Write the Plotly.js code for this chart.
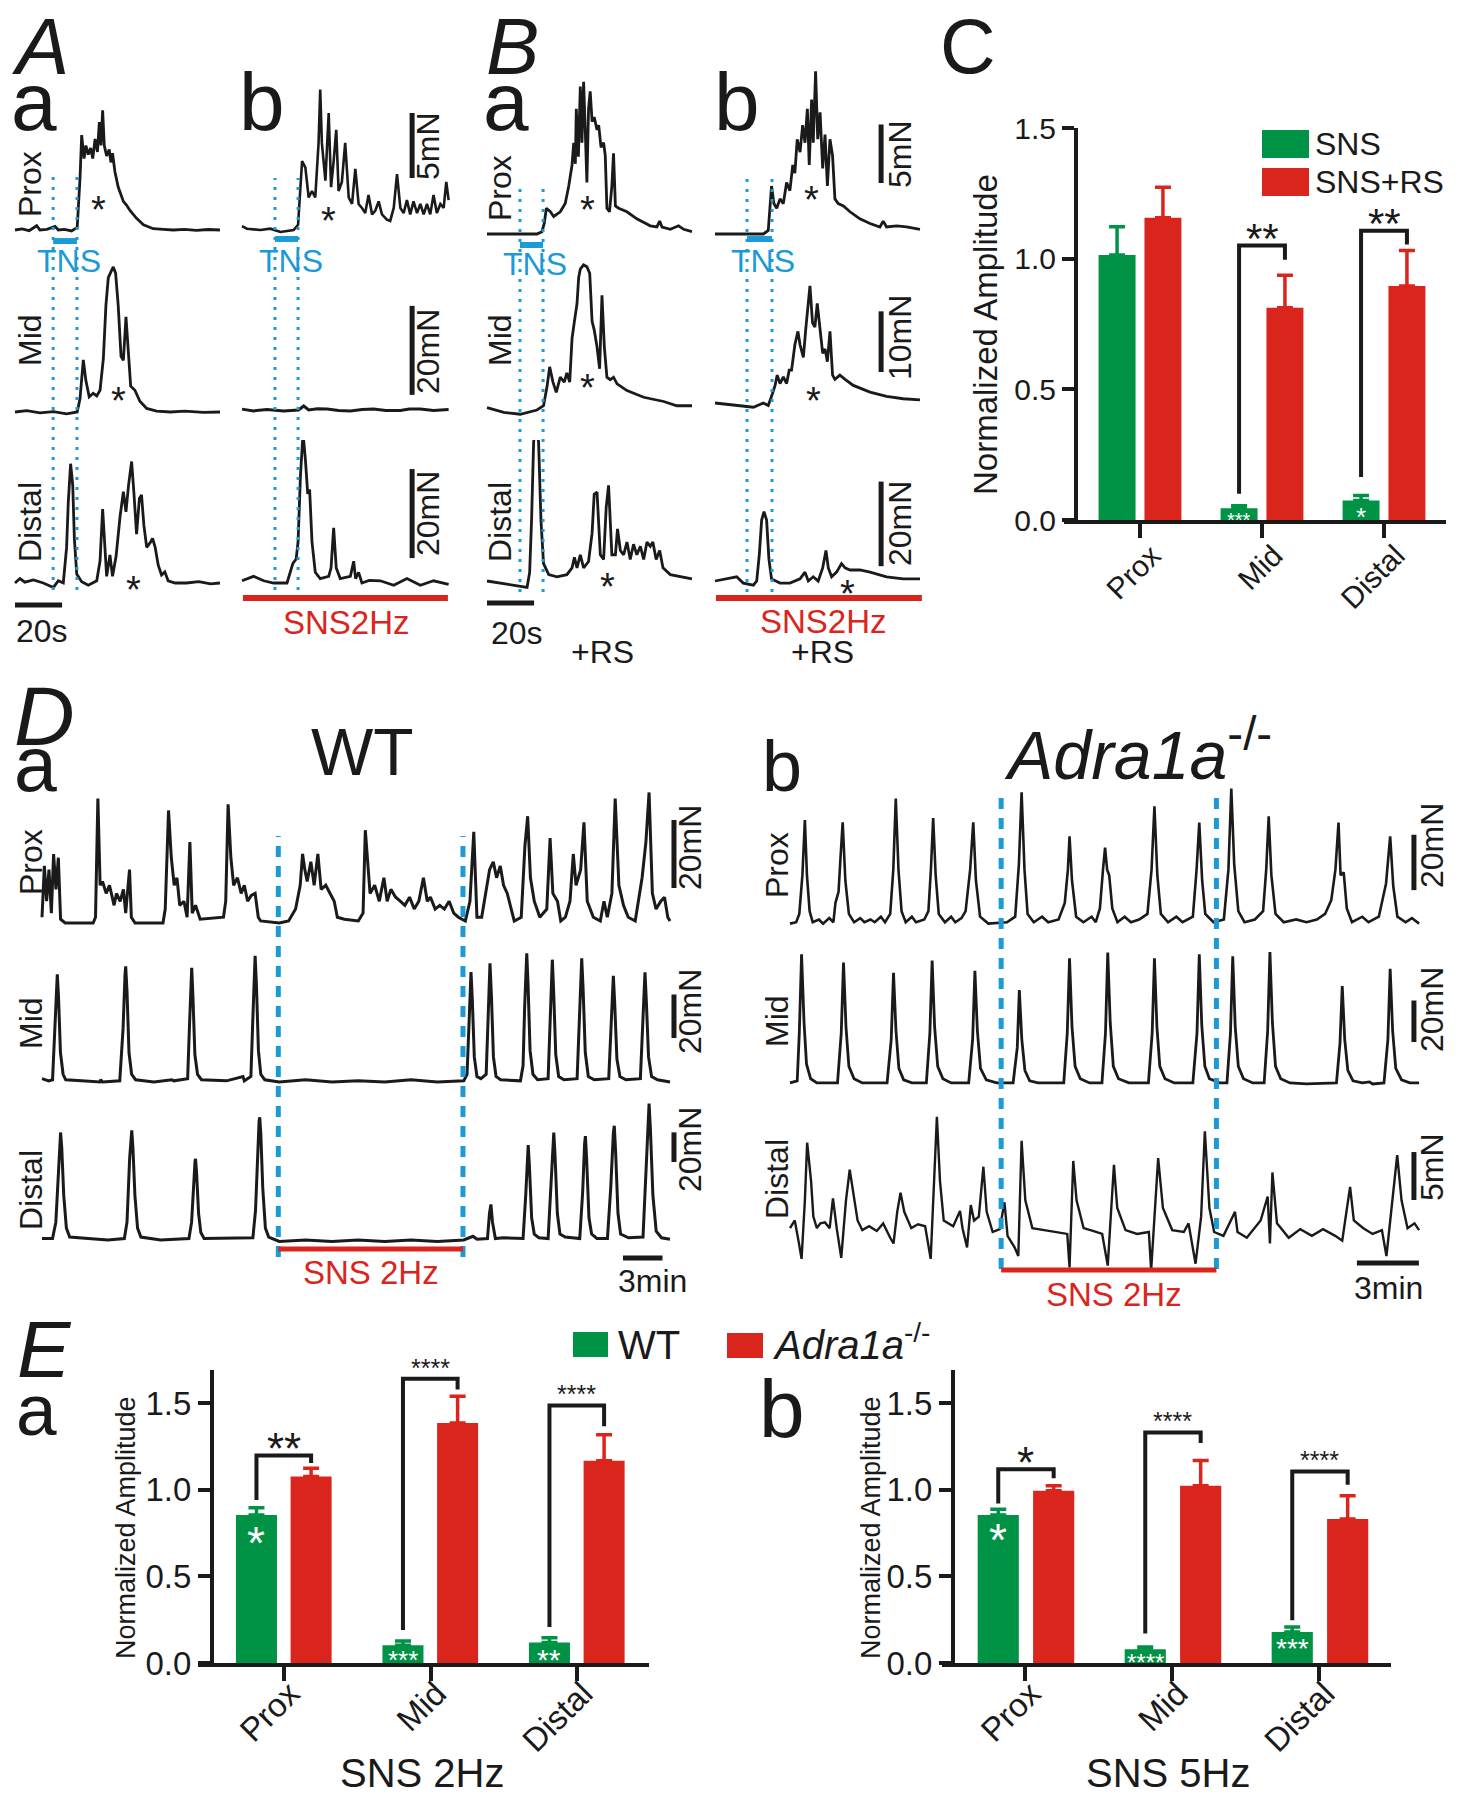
<!DOCTYPE html>
<html>
<head>
<meta charset="utf-8">
<script src="https://cdn.plot.ly/plotly-3.0.1.min.js"></script>
<style>body{margin:0;background:#fff}</style>
</head>
<body>
<div id="fig" style="width:1461px;height:1800px"></div>
<script>
// ---------- force traces, panels A and B: [time (s), force above baseline (mN)] ----------
var aaProx = [[0,0],[3,0.08],[6,-0.05],[9.2,0.33],[10.6,0],[13.5,0.05],[17,0.27],[18.4,0],[21,0.05],[24,-0.07],[26.4,0.2],[27.6,4.0],[28.3,7.3],[29.3,5.5],[30.1,6.5],[31.1,5.8],[32.1,6.3],[33,5.5],[34,7.0],[35,6.0],[35.8,8.3],[36.5,6.5],[37.2,9.2],[37.9,6.5],[38.9,5.7],[40,6.2],[40.7,5.2],[41.4,5.9],[42.4,4.5],[43.8,3.3],[46,2.2],[47.4,1.9],[48.8,1.5],[50.2,1.2],[51.6,0.9],[54.5,0.4],[58.7,0.1],[63,0.05],[67.2,0],[72,0.05],[77,-0.03],[82,0.04],[87,0]];
var aaMid = [[0,0],[5,0.3],[10.6,-0.2],[16.3,0.1],[21.9,-0.4],[26.4,0],[27.6,3],[29,11.7],[30.1,7],[31.5,3.4],[33.2,4.2],[34.7,3.6],[36.1,4.9],[37.5,12],[38.6,24],[39.6,30.2],[40.7,31.5],[41.7,32.6],[42.7,31.2],[43.8,24],[45,12.5],[46,11.6],[47.1,21.4],[48.1,14],[49.1,5.8],[50.9,4.9],[53,2.4],[55.9,0.8],[60.1,0.2],[66,0],[72,0.2],[80,-0.1],[87,0]];
var aaDistal = [[0,0],[2.1,1.0],[4.2,0.2],[7.8,0.7],[12,0],[16.3,-1.0],[18.4,0.5],[20.5,0],[21.9,8],[22.6,18],[23.6,26.8],[24.5,22],[25.2,10],[26.2,2],[28.3,0.3],[31.1,-0.5],[34.7,0.5],[36.1,5],[37.2,16.6],[38.1,8],[38.9,1.5],[40.3,6.3],[41.4,1.5],[42.9,6],[44.6,15],[46,20.5],[47.1,16],[48.2,22],[49.5,27.3],[50.5,20],[51.6,11],[52.8,19],[53.7,19.8],[54.7,13],[55.9,8],[57.3,9],[58.4,10],[59.5,8],[60.8,4],[62.2,1.8],[63.6,2.5],[65,0.5],[68,0],[72.8,0],[78,0.3],[83,-0.2],[87,0]];
var abProx = [[0,0.3],[2.1,0.1],[7.8,0],[12,0.1],[16.3,-0.15],[21.9,0],[23.8,0.4],[24.8,3.3],[25.5,5.3],[26.9,4.8],[28.3,2.5],[29.7,3],[31.1,2.5],[32.5,6.7],[33.2,10.8],[33.9,6.7],[35.4,3.8],[36.8,9],[37.8,3.3],[38.9,5.3],[40,7.7],[41,3],[42.4,3.7],[43.8,6.7],[45.3,2.5],[46.7,2],[48.1,4.7],[49.5,2],[50.9,1.7],[52.3,1.3],[53.7,2.7],[55.2,1.2],[56.6,1.5],[58,2.2],[59.4,1.2],[61.5,0.8],[62.9,0.7],[64.4,1.7],[65.8,4.3],[67.2,1.7],[68.6,1.3],[70,2.3],[71.4,1.2],[72.8,2.2],[74.3,1.3],[75.7,2],[77.1,1.2],[78.5,2],[79.9,1.2],[81.3,2.7],[82.7,1.3],[84.2,2],[85.6,1.7],[86.7,3.7],[87.7,2.3]];
var abMid = [[0,0.2],[4.9,-0.2],[10.6,0.1],[17.7,-0.2],[24,0],[26.2,0.9],[28.3,0],[32,0.3],[36.1,0.2],[41,-0.1],[46,-0.2],[51,0.1],[55.9,0.2],[61,-0.1],[67.2,-0.1],[71,0.2],[75.7,0.2],[81.3,-0.1],[87.7,0.1]];
var abDistal = [[0,0.5],[4.9,1.5],[9.2,0.5],[13.4,0],[19.1,0],[21.6,4.4],[23,5.4],[23.8,9.3],[24.8,24],[25.9,33.7],[26.9,27.8],[27.9,20],[28.7,21],[29.7,9.3],[31.1,2.4],[33.2,1],[36.8,1.5],[37.8,3.4],[38.9,12.4],[40,3.4],[41.7,1],[46,1.5],[47.4,4.9],[48.2,1],[49.5,2.4],[50.9,0],[54,0.6],[58.7,0.5],[64.4,-0.5],[70,1],[75.7,-0.5],[81.3,0.5],[87.7,-0.3]];
var baProx = [[0,0],[7.1,0],[14.1,0],[21.2,0],[23.3,0.2],[24.3,0.9],[25.2,2.2],[26.9,1.9],[28.3,1.5],[31.1,1.9],[33.2,2.6],[34.7,4.1],[36.1,5.9],[36.8,7.8],[37.5,6],[37.9,10.7],[38.8,6.6],[39.6,12.6],[40.3,7.8],[41,13],[41.7,8.9],[42.4,4.4],[43.1,10.7],[43.8,12.2],[44.6,9.6],[45.5,10],[46.7,8.9],[47.4,9.3],[48.4,7.4],[49.5,7.8],[50.2,6.7],[50.9,2.2],[52,1.9],[53,4.1],[53.7,6.9],[54.5,2.4],[55.9,2.2],[59.4,1.9],[63.6,1.3],[69.3,0.7],[72.1,0.6],[73.3,1.1],[74.3,0.6],[77.8,0.4],[81.3,0.7],[83.5,0.4],[87,0.2]];
var baMid = [[0,0.4],[7.1,-0.4],[14.1,-0.7],[21.2,0],[24,0.7],[25.5,3.9],[26.6,7.1],[28,4.6],[29.4,2.9],[31.1,5.4],[32.8,4.6],[33.9,6.1],[35.1,4.6],[36.1,11.8],[37.1,14.6],[38.2,17.5],[38.9,21.8],[39.6,23.2],[41,23.9],[42.4,23.6],[43.6,22.5],[44.6,14.6],[45.5,13.2],[46.7,10.4],[47.8,6.8],[48.8,18.9],[49.8,10.4],[50.9,5.4],[52.3,5],[53.7,5.4],[55.2,4.3],[59.4,3.2],[66.5,2.1],[75,1.4],[80.6,0.7],[87,0.7]];
var baDistal = [[0,0],[5.7,-0.5],[11.3,-1],[17,-1.5],[18.1,2],[18.95,15],[19.8,33],[20.9,37],[21.9,32.8],[22.9,14.4],[24,4.1],[26.2,1.5],[29.7,1],[33.9,1.5],[36.1,3.1],[37.1,5.6],[38.2,3.1],[39.6,6.2],[41,3.1],[43.1,4.6],[44.6,11.3],[45.5,20.5],[46.7,21],[48.1,6.2],[49.5,5.1],[50.6,17.4],[51.6,22.6],[53,6.2],[54.5,6.2],[55.4,12.3],[56.6,7.2],[58,6.2],[59.4,9.2],[60.8,5.1],[62.2,8.7],[63.6,6.2],[65.1,8.2],[66.5,5.1],[67.9,9.2],[69.3,8.2],[70.4,9.2],[71.8,5.1],[73.3,7.2],[74.7,3.1],[77.8,1.5],[82,1],[87,0.5]];
var bbProx = [[0,0],[6.4,0],[13.4,0],[20.5,0],[22.6,0.3],[23.3,1.9],[24,4.1],[25,2.6],[26.2,2.2],[27.6,3],[29,2.6],[30.4,4.4],[31.8,3.7],[33,5.9],[33.9,5.2],[34.9,8.1],[36.1,7],[37.2,9.3],[38.2,7.8],[39.2,10.7],[40,5.9],[41,11.5],[41.7,7.8],[42.7,13.9],[43.6,8.1],[44.6,10.4],[45.7,5.6],[46.7,8.5],[47.7,4.1],[48.8,8.1],[49.9,6.7],[50.9,3],[52.3,2.6],[54.5,2.4],[57.3,1.9],[61.5,1.3],[65.8,0.9],[70,0.6],[71.4,1.1],[72.8,0.6],[77.1,0.7],[81.3,0.6],[87,0.4]];
var bbMid = [[0,0],[9.2,-0.4],[16.3,-0.7],[20.5,0],[22.6,-0.4],[24,1.1],[25.5,2.9],[26.4,4.6],[27.6,3.2],[29,4.3],[30.4,3.2],[31.5,5.4],[32.5,5.4],[33.9,9.6],[35.2,11.8],[36.1,9.6],[37.5,7.5],[38.6,12.5],[39.6,16.8],[40.3,19.3],[41.4,13.2],[42.4,12.5],[43.4,16.4],[44.6,11.8],[45.7,8.2],[46.7,8.9],[47.7,6.8],[48.8,11.8],[49.9,4.6],[50.9,3.9],[53,4.6],[55.2,3.9],[58.7,2.9],[65.8,1.8],[72.8,1.1],[79.9,0.7],[87,0.5]];
var bbDistal = [[0,0],[5,0.5],[9.2,1],[12,-0.5],[16.3,-1],[17.7,0],[18.8,6.2],[19.8,14.4],[20.8,16.4],[21.9,14.4],[22.9,5.1],[24,0.5],[27.6,-0.5],[31.8,-0.5],[36.1,0.5],[38.2,2.1],[39.6,0],[41.7,1],[43.8,0],[45.7,3.1],[47.1,7.2],[48.1,3.1],[49.5,1],[51.6,2.1],[53.7,4.1],[55.2,3.1],[57.3,2.6],[61.5,2.6],[65.8,2.1],[72.8,1],[79.9,0.5],[87,0.5]];

// ---------- force traces, panel D: [time (min), force above baseline (mN)] ----------
var daProx = [[0,1.7],[0.18,16.8],[0.35,6.4],[0.53,15.7],[0.71,2.9],[0.88,20.3],[1.06,9.9],[1.24,19.2],[1.41,1.1],[1.76,0],[3.88,0],[4.06,1.7],[4.24,36.6],[4.41,11.1],[4.59,12.2],[4.87,8.7],[5.12,11.1],[5.47,5.2],[5.65,8.7],[5.93,6.4],[6.18,9.9],[6.35,2.9],[6.64,15.7],[6.78,1.7],[7.06,0],[9.18,0],[9.35,4.1],[9.6,33.1],[9.81,19.2],[10.03,11.1],[10.24,13.3],[10.45,5.2],[10.77,6.4],[11.01,1.7],[11.22,23.8],[11.4,2.9],[11.65,5.2],[12,1.1],[13.77,1.7],[13.94,6.4],[14.12,34.9],[14.33,19.2],[14.54,11.1],[14.83,13.3],[15.11,8.7],[15.35,11.1],[15.6,6.4],[15.88,8.1],[16.17,8.7],[16.41,1.7],[16.59,0.6],[18,0],[18.71,0.6],[19.24,4.1],[19.59,11.1],[19.77,20.3],[19.94,15.7],[20.12,12.2],[20.4,18],[20.65,11.1],[20.93,20.3],[21.18,9.9],[21.53,11.1],[21.88,8.7],[22.17,6.4],[22.41,1.7],[22.94,1.1],[24,0.6],[24.36,2.9],[24.53,27.3],[24.71,19.2],[24.89,8.7],[25.24,11.1],[25.59,6.4],[25.94,13.3],[26.19,6.4],[26.47,9.9],[26.83,7.6],[27.18,6.4],[27.53,5.2],[27.89,7.6],[28.24,4.1],[28.59,6.4],[28.94,13.3],[29.23,6.4],[29.47,7.6],[29.83,4.1],[30.18,5.2],[30.53,4.1],[30.89,6.4],[31.24,2.9],[31.59,1.7],[32.12,0.6],[32.47,6.4],[32.76,26.8],[33,1.7],[33.36,1.7],[33.71,9.9],[33.96,15.7],[34.24,18],[34.49,13.3],[34.77,16.8],[35.02,11.1],[35.3,8.7],[35.58,4.1],[35.83,0.6],[36.36,1.7],[36.64,22.7],[36.85,31.4],[37.06,13.3],[37.35,6.4],[37.77,1.7],[38.3,4.1],[38.55,25],[38.76,8.7],[39.11,6.4],[39.36,0.6],[39.71,1.7],[40.06,6.4],[40.31,20.3],[40.52,11.1],[40.87,15.7],[41.12,29.6],[41.37,6.4],[41.83,1.7],[42.36,0.6],[42.64,6.4],[42.89,1.7],[43.24,8.7],[43.49,36.6],[43.77,11.1],[44.12,5.2],[44.48,1.7],[45.01,0.6],[45.53,13.3],[45.82,23.8],[46.06,38.4],[46.31,8.7],[46.59,4.1],[46.95,6.4],[47.23,7.6],[47.48,1.7],[47.65,0.6]];
var daMid = [[0,2],[0.5,1],[0.8,1.5],[0.95,20],[1.1,45],[1.16,50],[1.25,40],[1.4,14],[1.6,4],[1.8,1.5],[3,1],[4.4,0.5],[4.45,1.5],[4.6,0.5],[5.9,1],[6.15,25],[6.3,50],[6.35,53.6],[6.45,42],[6.6,14],[6.8,4],[7.1,1.5],[8.5,0.5],[9.85,1.5],[10,1],[11.05,2],[11.2,28],[11.32,50],[11.36,53],[11.45,40],[11.6,13],[11.8,4],[12.1,1.5],[14,1],[15.25,3],[15.35,1],[15.85,3],[16.0,30],[16.12,55],[16.17,58.5],[16.27,45],[16.42,15],[16.6,4],[16.9,1.5],[18,0.5],[20,1.5],[22,0.5],[24,1],[26,0.5],[28,1.5],[30,0.5],[32,1],[32.25,4],[32.4,30],[32.5,49],[32.55,51],[32.65,38],[32.8,12],[33.0,3],[33.3,2],[33.7,4],[33.85,32],[33.95,53],[33.99,55],[34.1,40],[34.25,12],[34.45,3],[34.8,1.5],[36.3,1],[36.5,8],[36.62,35],[36.73,57],[36.78,59.6],[36.88,45],[37.03,15],[37.25,4],[37.6,1.5],[38.4,2],[38.55,30],[38.67,54],[38.72,56.7],[38.82,42],[38.98,13],[39.2,3],[39.6,1.5],[40.6,2],[40.77,32],[40.9,55],[40.95,57.3],[41.05,44],[41.22,14],[41.45,3],[41.9,1.5],[43,2],[43.17,26],[43.3,47],[43.35,49.3],[43.45,37],[43.62,11],[43.85,3],[44.3,1.5],[45.4,2],[45.57,26],[45.7,48],[45.75,50.9],[45.85,38],[46.02,12],[46.25,3],[46.7,1.5],[47.65,0.5]];
var daDistal = [[0,1],[0.8,1],[1.05,12],[1.25,50],[1.36,70],[1.41,72.5],[1.5,62],[1.65,30],[1.85,8],[2.1,2],[3.5,1],[5,0],[6.25,1],[6.45,12],[6.65,55],[6.76,72],[6.81,74],[6.9,62],[7.05,30],[7.25,8],[7.5,2],[9,0],[11.15,1],[11.35,12],[11.52,42],[11.61,53],[11.65,54.7],[11.73,45],[11.88,18],[12.05,5],[12.3,1],[14,1],[16,1.5],[16.2,20],[16.37,65],[16.47,80],[16.52,82.7],[16.6,72],[16.75,35],[16.95,8],[17.2,2],[18,-1],[20,0],[22,-1],[24,0],[26,-1],[28,0],[30,-1],[32,0],[32.7,2.5],[33,0.5],[33.8,1],[33.95,18],[34.06,24],[34.18,12],[34.4,1],[35,1.5],[36.5,1],[36.7,30],[36.83,58],[36.89,64],[36.98,50],[37.15,15],[37.35,4],[37.7,1.5],[38.4,1],[38.6,35],[38.76,68],[38.83,72.5],[38.92,58],[39.1,18],[39.3,4],[39.7,2],[40.8,1],[41.02,32],[41.17,65],[41.23,70],[41.32,55],[41.5,15],[41.7,4],[42.1,1],[42.9,1],[43.15,35],[43.35,72],[43.42,77],[43.52,60],[43.7,18],[43.9,4],[44.5,1.5],[45.6,2],[45.82,45],[45.98,85],[46.06,92],[46.16,75],[46.35,30],[46.6,6],[47,1.5],[47.65,0.5]];
var dbProx = [[0,0.5],[0.3,1],[0.45,4],[0.6,18],[0.72,37.9],[0.82,18],[0.95,5],[1.1,1],[1.4,2],[1.6,0.5],[1.9,2.5],[2.1,1],[2.2,8],[2.35,12],[2.45,25],[2.55,37.1],[2.68,16],[2.85,4],[3.1,1],[3.4,2.5],[3.6,1],[3.9,2],[4.1,1],[4.4,3],[4.6,1],[4.85,4],[5.0,20],[5.12,45.7],[5.25,20],[5.4,5],[5.6,1],[5.9,3],[6.1,1],[6.5,2],[6.7,5],[6.82,20],[6.93,38.6],[7.05,18],[7.2,4],[7.5,1],[7.8,3],[8.0,1],[8.3,2.5],[8.5,5],[8.72,20],[8.87,37.1],[9.0,16],[9.2,3],[9.6,0.5],[10.5,1],[10.9,3],[11.08,22],[11.21,47.9],[11.35,20],[11.5,4],[11.8,1],[12.2,3],[12.5,1],[13.0,2],[13.3,8],[13.45,20],[13.53,32],[13.65,16],[13.85,3],[14.2,1],[14.6,3],[14.8,1],[15.0,6],[15.15,20],[15.25,28],[15.35,20],[15.45,18],[15.6,6],[15.85,1],[16.2,3],[16.5,1],[16.9,2],[17.3,4],[17.5,20],[17.64,42.9],[17.78,18],[17.95,4],[18.3,1],[18.7,3],[19.0,1],[19.5,3],[19.68,20],[19.81,37],[19.95,16],[20.1,4],[20.5,1],[21.0,2],[21.22,20],[21.36,49.3],[21.5,22],[21.7,5],[22.0,1],[22.5,2],[22.9,5],[23.05,20],[23.17,39.3],[23.3,18],[23.5,4],[23.9,1],[24.5,2],[25,1],[25.5,2],[25.9,4],[26.2,9],[26.4,20],[26.55,37],[26.65,18],[26.8,19],[26.95,6],[27.2,1],[27.7,3],[28,1],[28.5,3],[28.85,15],[29.05,32],[29.2,14],[29.4,3],[29.8,1],[30.1,2.5],[30.45,0.5]];
var dbMid = [[0,1],[0.35,2],[0.45,25],[0.56,63],[0.68,30],[0.8,10],[1.0,3],[1.3,1],[2.3,1],[2.48,25],[2.59,59],[2.71,28],[2.85,9],[3.1,3],[3.5,1],[4.7,1],[4.9,22],[5.01,54],[5.13,26],[5.27,8],[5.5,2.5],[5.9,1],[6.6,1],[6.77,25],[6.88,60],[7.0,28],[7.15,9],[7.4,3],[7.8,1],[8.65,1],[8.84,22],[8.95,55],[9.07,26],[9.22,8],[9.5,2.5],[10,1],[10.8,1],[11.0,18],[11.1,45.7],[11.22,22],[11.37,7],[11.6,2],[12,1],[13.25,1],[13.42,25],[13.53,61],[13.65,28],[13.8,9],[14.05,3],[14.5,1],[15.1,1],[15.27,25],[15.38,63.8],[15.5,30],[15.65,9],[15.9,3],[16.4,1],[17.35,1],[17.53,25],[17.64,61],[17.76,28],[17.9,9],[18.15,3],[18.6,1],[19.5,1],[19.7,25],[19.81,63],[19.93,29],[20.08,9],[20.3,3],[20.8,1],[21.15,1],[21.32,25],[21.43,62],[21.55,28],[21.7,9],[21.95,3],[22.4,1],[22.95,1],[23.12,26],[23.23,64],[23.35,30],[23.5,9],[23.75,3],[24.2,1],[25,0.5],[26.45,1],[26.62,20],[26.73,47.6],[26.85,22],[27.0,7],[27.25,2],[27.7,1],[28.05,1.5],[28.2,0.5],[28.75,1],[28.94,22],[29.05,56],[29.17,26],[29.32,8],[29.6,2.5],[30,1],[30.45,1]];
var dbDistal = [[0,0.4],[0.23,1.2],[0.41,-0.9],[0.56,-2.8],[0.72,3.3],[0.83,9.3],[1.02,5.3],[1.13,1.6],[1.3,0.4],[1.47,0.9],[1.69,1],[1.92,0.4],[2.08,3.5],[2.26,0.4],[2.48,-2.7],[2.71,3.3],[2.89,6.5],[3.05,4.1],[3.27,1.2],[3.5,0.2],[3.83,0.6],[4.2,0.1],[4.51,0.9],[4.85,-0.6],[5.01,-1.2],[5.19,2.1],[5.35,4.1],[5.53,2.1],[5.87,0.4],[6.2,0.8],[6.54,0.6],[6.81,-2.8],[6.99,5.3],[7.11,12],[7.26,5.3],[7.44,1.2],[7.9,0.6],[8.12,1.6],[8.23,2.2],[8.35,0.4],[8.57,-1.6],[8.75,2.8],[8.91,1.2],[9.14,1.6],[9.36,6.8],[9.52,2.1],[9.81,0],[10.15,0.3],[10.38,3.1],[10.53,-0.4],[10.87,-1.6],[11.05,-2.5],[11.21,9.5],[11.39,3.3],[11.73,0.4],[12.3,0.2],[12.86,0],[13.42,-0.2],[13.53,-3.7],[13.71,7.4],[13.87,3.3],[14.21,0.4],[14.7,0.1],[15.11,-0.2],[15.38,-3.5],[15.68,7],[15.84,2.5],[16.24,0.2],[16.8,-0.2],[17.37,0],[17.48,-4],[17.82,7.7],[18.05,2.5],[18.5,0.2],[19.06,0],[19.29,0.9],[19.63,-3.3],[19.9,1.6],[20.08,10.5],[20.3,2.5],[20.53,0],[20.98,-0.4],[21.54,2.1],[21.66,0],[22.11,-0.6],[22.78,1.2],[23.12,3.7],[23.23,-1.2],[23.35,6.2],[23.57,0.9],[24.14,-0.6],[24.7,0.3],[25.26,-0.4],[25.8,0.3],[26.39,-0.4],[26.73,-0.9],[26.96,2.5],[27.11,4.7],[27.29,1.2],[27.75,0.4],[28.2,-0.2],[28.65,0.2],[28.87,-2.5],[29.21,4.1],[29.39,8],[29.6,3.3],[29.89,0.4],[30.23,0.9],[30.45,0.2]];

// stimulation windows and recording spans
var tnsAa = [16.2, 26.3], tnsAb = [14.0, 23.8], tnsBa = [14.0, 23.8], tnsBb = [13.6, 24.2];
var snsAb = [0.4, 87.4], snsBb = [0.4, 87.8];
var snsDa = [17.93, 31.94], snsDb = [10.22, 20.64];

// ---------- summary bars: normalized amplitude, mean and SEM ----------
var regions = ['Prox', 'Mid', 'Distal'];
var cSns = [1.014, 0.045, 0.075], cSnsErr = [0.108, 0.010, 0.019];
var cSnsRs = [1.157, 0.812, 0.895], cSnsRsErr = [0.116, 0.125, 0.136];
var eaWt = [0.854, 0.102, 0.118], eaWtErr = [0.042, 0.025, 0.027];
var eaKo = [1.076, 1.384, 1.166], eaKoErr = [0.048, 0.154, 0.151];
var ebWt = [0.854, 0.079, 0.179], ebWtErr = [0.033, 0.014, 0.029];
var ebKo = [0.993, 1.022, 0.831], ebKoErr = [0.029, 0.146, 0.133];
// significance: bracket marks and stars inside the green bars
var cSigMark = ['', '**', '**'], cSigLeft = [0, 0.10, 0.165], cSigTop = [0, 1.05, 1.107], cSigRight = [0, 0.996, 1.054];
var eaSigMark = ['**', '****', '****'], eaSigLeft = [0.94, 0.19, 0.208], eaSigTop = [1.197, 1.639, 1.485], eaSigRight = [1.153, 1.577, 1.365];
var ebSigMark = ['*', '****', '****'], ebSigLeft = [0.92, 0.17, 0.247], ebSigTop = [1.118, 1.33, 1.105], ebSigRight = [1.066, 1.269, 1.028];
var cInBar = ['', '***', '*'], eaInBar = ['*', '***', '**'], ebInBar = ['*', '****', '***'];

var W = 1461, H = 1800;
var INK = '#1a1a1a', BLUE = '#1b9ad6', RED = '#da251d', GREEN = '#009245';
function fx(p) { return p / W; }
function fy(p) { return 1 - p / H; }
function akey(id) { return id.charAt(0) + 'axis' + id.slice(1); }

var data = [], shapes = [], notes = [];
var layout = {
  width: W, height: H, margin: {l: 0, r: 0, t: 0, b: 0},
  paper_bgcolor: '#fff', plot_bgcolor: 'rgba(0,0,0,0)',
  showlegend: false, hovermode: false, barmode: 'overlay',
  font: {family: 'Arial, "Liberation Sans", sans-serif', color: INK}
};

function colAxis(id, px0, sx, left, right) {
  layout[akey(id)] = {domain: [fx(left), fx(right)], range: [(left - px0) / sx, (right - px0) / sx], visible: false};
}
function row(pts, xid, yid, base, py, top, bottom, lw) {
  layout[akey(yid)] = {domain: [fy(bottom), fy(top)], range: [(base - bottom) / py, (base - top) / py], visible: false, anchor: xid};
  data.push({type: 'scatter', mode: 'lines', xaxis: xid, yaxis: yid,
    x: pts.map(function (p) { return p[0]; }), y: pts.map(function (p) { return p[1]; }),
    line: {color: INK, width: lw}, hoverinfo: 'skip'});
}
function vbar(xid, yid, t, y0, len) {
  shapes.push({type: 'line', xref: xid, yref: yid, x0: t, x1: t, y0: y0, y1: y0 + len, line: {color: INK, width: 5}});
}
function hbar(xid, yid, t0, t1, y, color, w) {
  shapes.push({type: 'line', xref: xid, yref: yid, x0: t0, x1: t1, y0: y, y1: y, line: {color: color, width: w}});
}
function vline(xid, t, top, bottom, color, w, dash) {
  shapes.push({type: 'line', xref: xid, yref: 'paper', x0: t, x1: t, y0: fy(bottom), y1: fy(top), line: {color: color, width: w, dash: dash}});
}
function txt(s, x, y, size, extra) {
  var a = {text: s, x: fx(x), y: fy(y), xref: 'paper', yref: 'paper', showarrow: false,
    xanchor: 'center', yanchor: 'middle', font: {size: size, color: INK}};
  for (var k in extra) a[k] = extra[k];
  notes.push(a);
}
function star(x, y) { txt('*', x, y + 8.5, 38); }

// ---------- panels A and B ----------
colAxis('x', 15, 2.356, 10, 225);
colAxis('x2', 242, 2.356, 238, 455);
colAxis('x3', 487, 2.356, 483, 697);
colAxis('x4', 715, 2.356, 711, 925);
row(aaProx, 'x', 'y', 230, 13, 60, 270, 2.8);
row(aaMid, 'x', 'y2', 412, 4.45, 250, 440, 2.8);
row(aaDistal, 'x', 'y3', 583, 4.45, 440, 615, 2.8);
row(abProx, 'x2', 'y4', 230, 13, 60, 270, 2.6);
row(abMid, 'x2', 'y5', 410, 4.45, 250, 440, 3);
row(abDistal, 'x2', 'y6', 583, 4.45, 440, 615, 2.8);
row(baProx, 'x3', 'y7', 234, 11.7, 55, 270, 2.8);
row(baMid, 'x3', 'y8', 410, 6.07, 250, 440, 2.8);
row(baDistal, 'x3', 'y9', 581, 4.23, 440, 615, 2.8);
row(bbProx, 'x4', 'y10', 234, 11.7, 55, 270, 2.8);
row(bbMid, 'x4', 'y11', 403, 6.07, 250, 440, 2.8);
row(bbDistal, 'x4', 'y12', 581, 4.23, 440, 615, 2.8);

[['x', tnsAa, 176, 590, 'y', -0.85], ['x2', tnsAb, 178, 590, 'y4', -0.69],
 ['x3', tnsBa, 182, 592, 'y7', -0.94], ['x4', tnsBb, 178, 592, 'y10', -0.43]].forEach(function (c) {
  vline(c[0], c[1][0], c[2], c[3], BLUE, 3, '3px,7px');
  vline(c[0], c[1][1], c[2], c[3], BLUE, 3, '3px,7px');
  hbar(c[0], c[4], c[1][0], c[1][1], c[5], BLUE, 6);
});
vbar('x2', 'y4', 72.2, 4, 5);
vbar('x2', 'y5', 72.2, 3.4, 20);
vbar('x2', 'y6', 72.2, 5.6, 20);
vbar('x4', 'y10', 70.5, 4.36, 5);
vbar('x4', 'y11', 70.5, 5.1, 10);
vbar('x4', 'y12', 70.5, 3.5, 20);
hbar('x', 'y3', 0, 20, -4.94, INK, 5);
hbar('x3', 'y9', 0, 20, -5.2, INK, 5);
hbar('x2', 'y6', snsAb[0], snsAb[1], -3.37, RED, 6);
hbar('x4', 'y12', snsBb[0], snsBb[1], -4.02, RED, 6);

// ---------- panel D ----------
colAxis('x5', 42, 13.18, 38, 680);
colAxis('x6', 790, 20.66, 786, 1425);
row(daProx, 'x5', 'y13', 923, 3.4, 780, 945, 3);
row(daMid, 'x5', 'y14', 1083, 2.175, 940, 1100, 3);
row(daDistal, 'x5', 'y15', 1240, 1.483, 1090, 1265, 3);
row(dbProx, 'x6', 'y16', 925, 2.768, 780, 945, 2.6);
row(dbMid, 'x6', 'y17', 1085, 2.076, 940, 1100, 2.8);
row(dbDistal, 'x6', 'y18', 1232, 9.6, 1090, 1275, 2.4);
vline('x5', snsDa[0], 836, 1257, BLUE, 5, '11px,9px');
vline('x5', snsDa[1], 836, 1257, BLUE, 5, '11px,9px');
vline('x6', snsDb[0], 791, 1269, BLUE, 5, '11px,9px');
vline('x6', snsDb[1], 791, 1269, BLUE, 5, '11px,9px');
hbar('x5', 'y15', snsDa[0], snsDa[1], -6.07, RED, 5);
hbar('x6', 'y18', snsDb[0], snsDb[1], -3.96, RED, 5);
vbar('x5', 'y13', 47.95, 10.3, 20);
vbar('x5', 'y14', 47.95, 20.7, 20);
vbar('x5', 'y15', 47.95, 52.6, 20);
vbar('x6', 'y16', 30.2, 12.6, 20);
vbar('x6', 'y17', 30.2, 20.7, 20);
vbar('x6', 'y18', 30.2, 3.33, 5);
hbar('x5', 'y15', 44.08, 47.08, -12.1, INK, 5);
hbar('x6', 'y18', 27.44, 30.44, -3.23, INK, 5);

// ---------- bar charts ----------
function barPanel(o) {
  var idx = regions.map(function (r, i) { return i; });
  var tf = {size: o.tickSize, color: INK};
  layout[akey(o.x)] = {domain: [fx(o.left), fx(o.right)], range: [(o.left - o.tick0) / o.unit, (o.right - o.tick0) / o.unit],
    anchor: o.y, tickvals: idx, ticktext: regions, tickangle: -45, ticks: 'outside', ticklen: 14, tickwidth: 4,
    ticklabelstandoff: o.labelUp, ticklabelshift: o.labelRight,
    tickcolor: INK, showline: true, linewidth: 4, linecolor: INK, showgrid: false, zeroline: false, tickfont: tf};
  layout[akey(o.y)] = {domain: [fy(o.zero), fy(o.top)], range: [0, o.yMax], anchor: 'free', position: fx(o.axisX),
    tickvals: [0, 0.5, 1, 1.5], tickformat: '.1f', ticks: 'outside', ticklen: 12, tickwidth: 4, tickcolor: INK,
    showline: true, linewidth: 4, linecolor: INK, showgrid: false, zeroline: false, tickfont: tf};
  [[o.g, o.gErr, GREEN, o.offG], [o.r, o.rErr, RED, o.offR]].forEach(function (s) {
    data.push({type: 'bar', xaxis: o.x, yaxis: o.y, x: idx, y: s[0], width: o.bw, offset: s[3],
      marker: {color: s[2], line: {width: 0}}, hoverinfo: 'skip',
      error_y: {type: 'data', symmetric: false, array: s[1], arrayminus: [0, 0, 0], color: s[2], thickness: 3.5, width: 8}});
  });
  o.sigMark.forEach(function (m, i) {
    if (!m) return;
    var xl = i + o.offG + o.bw / 2, xr = i + o.offR + o.bw / 2;
    shapes.push({type: 'path', xref: o.x, yref: o.y, line: {color: INK, width: 4},
      path: 'M' + xl + ',' + o.sigLeft[i] + ' L' + xl + ',' + o.sigTop[i] + ' L' + xr + ',' + o.sigTop[i] + ' L' + xr + ',' + o.sigRight[i]});
    var f = o.sigSize[i];
    notes.push({text: m, xref: o.x, yref: o.y, x: (xl + xr) / 2, y: o.sigTop[i], showarrow: false,
      xanchor: 'center', yanchor: 'bottom', yshift: 15 - 0.787 * f, font: {size: f, color: INK}});
  });
  o.inBar.forEach(function (m, i) {
    if (!m) return;
    var f = o.inSize[i];
    notes.push({text: m, xref: o.x, yref: o.y, x: i + o.offG + o.bw / 2, y: o.inY[i], showarrow: false,
      xanchor: 'center', yanchor: 'middle', yshift: -0.225 * f, font: {size: f, color: '#fff'}});
  });
}
barPanel({x: 'x7', y: 'y19', left: 1064, right: 1446, tick0: 1140, unit: 122, top: 128, zero: 520, yMax: 1.5, axisX: 1076,
  bw: 0.303, offG: -0.3395, offR: 0.0365, tickSize: 30, labelUp: -12, labelRight: 12,
  g: cSns, gErr: cSnsErr, r: cSnsRs, rErr: cSnsRsErr,
  sigMark: cSigMark, sigLeft: cSigLeft, sigTop: cSigTop, sigRight: cSigRight, sigSize: [0, 42, 42],
  inBar: cInBar, inSize: [0, 20, 26], inY: [0, 0.019, 0.034]});
barPanel({x: 'x8', y: 'y20', left: 198, right: 649, tick0: 284, unit: 146.5, top: 1370, zero: 1663, yMax: 1.69, axisX: 212,
  bw: 0.28, offG: -0.328, offR: 0.045, tickSize: 33, labelUp: -20, labelRight: 6,
  g: eaWt, gErr: eaWtErr, r: eaKo, rErr: eaKoErr,
  sigMark: eaSigMark, sigLeft: eaSigLeft, sigTop: eaSigTop, sigRight: eaSigRight, sigSize: [44, 25, 25],
  inBar: eaInBar, inSize: [46, 26, 30], inY: [0.75, 0.052, 0.058]});
barPanel({x: 'x9', y: 'y21', left: 942, right: 1391, tick0: 1025, unit: 147, top: 1370, zero: 1663, yMax: 1.69, axisX: 953,
  bw: 0.28, offG: -0.322, offR: 0.055, tickSize: 33, labelUp: -20, labelRight: 6,
  g: ebWt, gErr: ebWtErr, r: ebKo, rErr: ebKoErr,
  sigMark: ebSigMark, sigLeft: ebSigLeft, sigTop: ebSigTop, sigRight: ebSigRight, sigSize: [44, 25, 25],
  inBar: ebInBar, inSize: [46, 24, 28], inY: [0.767, 0.035, 0.121]});

// legends
function swatch(x0, x1, y0, y1, color) {
  shapes.push({type: 'rect', xref: 'paper', yref: 'paper', x0: fx(x0), x1: fx(x1), y0: fy(y1), y1: fy(y0), fillcolor: color, line: {width: 0}});
}
swatch(1262, 1309, 130, 158, GREEN);
swatch(1262, 1309, 168, 196, RED);
txt('SNS', 1313, 144, 32, {xanchor: 'left'});
txt('SNS+RS', 1313, 182, 32, {xanchor: 'left'});
swatch(573, 608, 1332, 1357, GREEN);
swatch(727, 763, 1333, 1358, RED);
txt('WT', 616, 1345, 40, {xanchor: 'left'});
txt('<i>Adra1a</i><sup>-/-</sup>', 771, 1342, 40, {xanchor: 'left'});

// ---------- text ----------
txt('<i>A</i>', 40, 46, 80); txt('a', 34, 101, 82); txt('b', 262, 101, 82);
txt('<i>B</i>', 512, 46, 80); txt('a', 506, 101, 82); txt('b', 737, 101, 82);
txt('C', 968, 46, 77);
txt('<i>D</i>', 44, 716, 84); txt('a', 35, 764, 77); txt('WT', 362, 752, 66);
txt('b', 782, 766, 72); txt('<i>Adra1a</i><sup>-/-</sup>', 1002, 750, 68, {xanchor: 'left'});
txt('<i>E</i>', 44, 1349, 80); txt('a', 36, 1409, 73); txt('b', 782, 1408, 82);

var rot = {textangle: -90};
[[30, 184, 340, 522], [500, 188, 340, 522], [31, 862, 1023, 1190], [777, 865, 1021, 1179]].forEach(function (c) {
  txt('Prox', c[0], c[1], 32, rot); txt('Mid', c[0], c[2], 32, rot); txt('Distal', c[0], c[3], 32, rot);
});
txt('5mN', 428, 146, 32, rot); txt('20mN', 428, 351, 32, rot); txt('20mN', 428, 513, 32, rot);
txt('5mN', 900, 154, 32, rot); txt('10mN', 900, 338, 32, rot); txt('20mN', 900, 524, 32, rot);
txt('20mN', 690, 848, 32, rot); txt('20mN', 690, 1012, 32, rot); txt('20mN', 690, 1150, 32, rot);
txt('20mN', 1432, 846, 32, rot); txt('20mN', 1432, 1010, 32, rot); txt('5mN', 1432, 1167, 32, rot);

var blueFont = {font: {size: 32, color: BLUE}}, redFont = {font: {size: 33, color: RED}};
txt('TNS', 69, 261, 32, blueFont); txt('TNS', 291, 261, 32, blueFont);
txt('TNS', 535, 264, 32, blueFont); txt('TNS', 763, 261, 32, blueFont);
txt('20s', 42, 631, 32); txt('20s', 517, 633, 32);
txt('SNS2Hz', 346, 622, 33, redFont); txt('SNS2Hz', 823, 621, 33, redFont);
txt('+RS', 602, 652, 32); txt('+RS', 822, 652, 32);
txt('SNS 2Hz', 371, 1272, 33, redFont); txt('SNS 2Hz', 1114, 1294, 33, redFont);
txt('3min', 652, 1281, 32); txt('3min', 1388, 1288, 32);

star(98, 202); star(118, 392); star(133, 581); star(328, 212);
star(587, 202); star(587, 379); star(607, 579);
star(811, 191); star(813, 392); star(847, 585);

txt('Normalized Amplitude', 985, 335, 33, rot);
txt('Normalized Amplitude', 126, 1528, 27, rot);
txt('Normalized Amplitude', 871, 1528, 27, rot);
txt('SNS 2Hz', 422, 1773, 40);
txt('SNS 5Hz', 1168, 1773, 40);

layout.shapes = shapes;
layout.annotations = notes;

try {
  Plotly.newPlot('fig', data, layout, {displayModeBar: false, staticPlot: true});
} catch (err) {
  console.error(err);
}
</script>
</body>
</html>
